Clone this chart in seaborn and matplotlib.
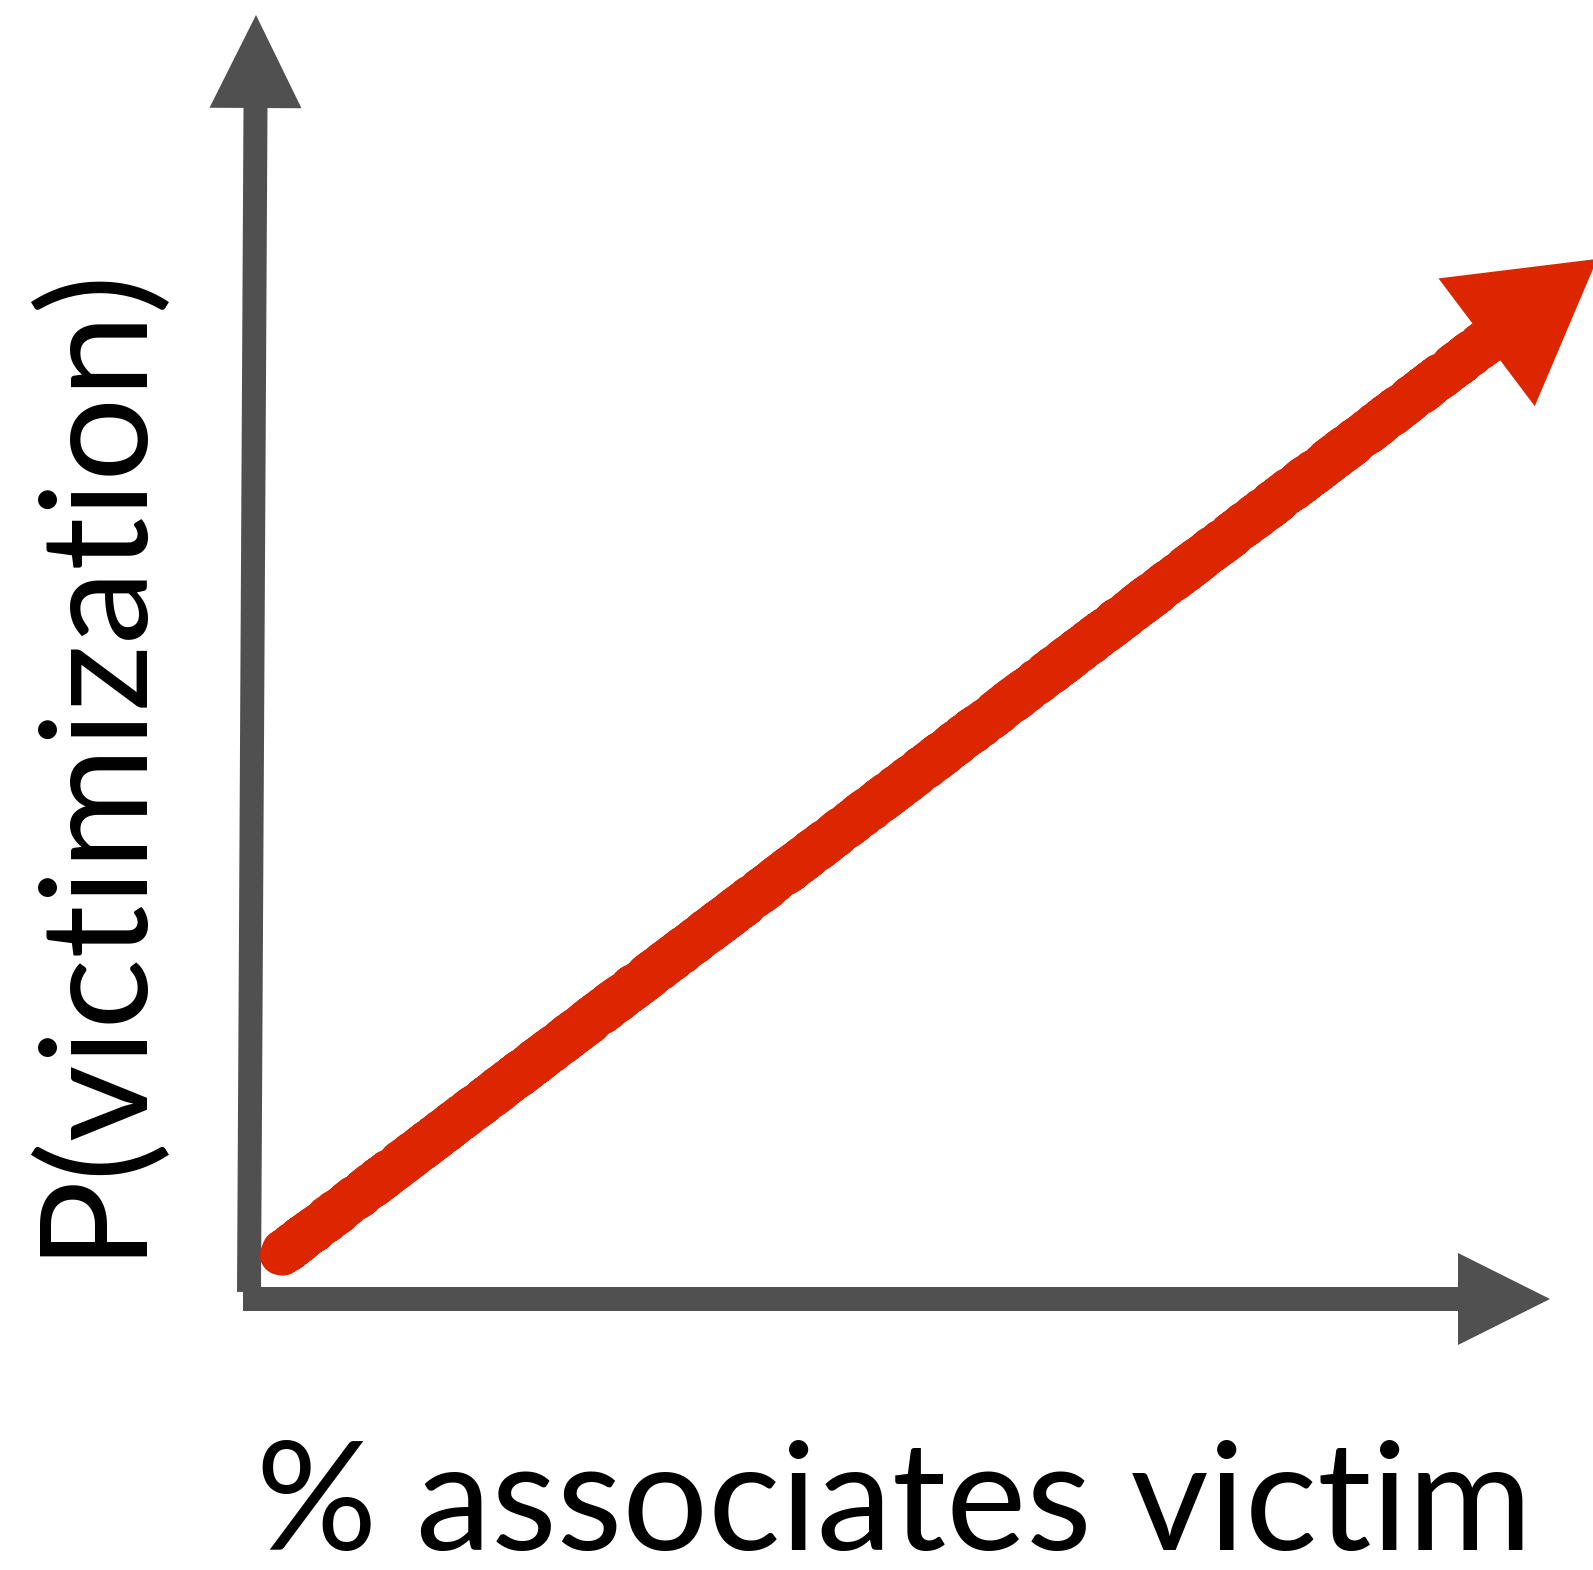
import matplotlib.pyplot as plt
import seaborn as sns

sns.set_theme(style="white")
plt.rcParams['font.family'] = ['Lato', 'DejaVu Sans']

# ---------------------------
# 1. Data (schematic: rising risk)
# ---------------------------
assoc_share = [0.0, 1.0]       # % associates victim (relative)
p_victim = [0.0, 1.0]          # P(victimization) (relative)
x_label = "% associates victim"
y_label = "P(victimization)"

RED = "#dc2600"
GREY = "#505050"
W, H = 1593, 1570

fig = plt.figure(figsize=(W / 100, H / 100), dpi=100)

# ---------------------------
# 2. Background layer: hand-made axes + labels (pixel coords)
# ---------------------------
bg = fig.add_axes([0, 0, 1, 1])
bg.set_xlim(0, W)
bg.set_ylim(H, 0)
bg.axis("off")

# y axis arrow
bg.arrow(249, 1292, 7, -1277, width=24, head_width=92, head_length=93,
         length_includes_head=True, color=GREY, lw=0)
# x axis arrow
bg.arrow(243, 1299, 1307, 0, width=24, head_width=92, head_length=92,
         length_includes_head=True, color=GREY, lw=0)

bg.text(256, 1550, x_label, ha="left", va="baseline", fontsize=109,
        color="black")
bg.text(90, 758, y_label, rotation=90, ha="center", va="center",
        fontsize=107, color="black")

# ---------------------------
# 3. Red trend arrow (data layer)
# ---------------------------
ax = fig.add_axes([280 / W, (H - 1255) / H, 1243 / W, 941 / H])
ax.patch.set_alpha(0)
sns.lineplot(x=assoc_share, y=p_victim, color=RED, lw=29, ax=ax)
for ln in ax.lines:
    ln.set_clip_on(False)
    ln.set_solid_capstyle("round")
    ln.set_sketch_params(scale=3, length=6, randomness=3)
# arrow head: rotated triangle on the last point
sns.scatterplot(x=assoc_share[-1:], y=p_victim[-1:], marker=(3, 0, -53),
                s=133 ** 2, color=RED, linewidth=0, ax=ax, clip_on=False)
ax.set_xlim(0, 1)
ax.set_ylim(0, 1)
ax.axis("off")

plt.savefig("out.png", dpi=100)
